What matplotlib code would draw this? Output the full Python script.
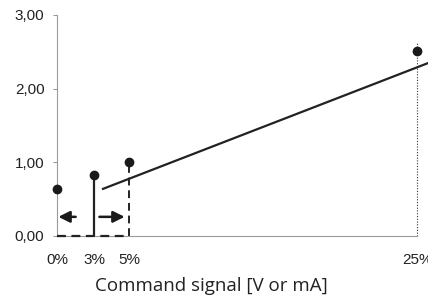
import numpy as np
import matplotlib.pyplot as plt

# measured points (command %, output)
point_x = [0, 2.6, 5, 25]
point_y = [0.64, 0.83, 1.0, 2.51]

# linear characteristic
line_x = [3.2, 25.8]
line_y = [0.64, 2.35]

tick_pos = [0, 2.6, 5, 25]
tick_labels = ['0%', '3%', '5%', '25%']
y_ticks = [0, 1, 2, 3]

GRAY = '#9a9a9a'

fig = plt.figure(figsize=(4.28, 2.97), dpi=100)
ax = fig.add_axes([0.133, 0.2054, 0.867, 0.7441])

ax.set_xlim(0, 25.76)
ax.set_ylim(0, 3)

# guide lines
ax.plot([point_x[1], point_x[1]], [0, point_y[1]], color='#222', lw=1.6)
ax.plot([point_x[2], point_x[2]], [0, point_y[2]], color='#222', lw=1.4, ls=(0, (4, 2.5)))
ax.plot([0, point_x[2]], [0, 0], color='#222', lw=1.6, ls=(0, (4, 2.5)), clip_on=False, zorder=5)
ax.plot([25, 25], [0, 2.62], color='#333', lw=0.8, ls=(0, (1, 1.5)))

# characteristic line
ax.plot(line_x, line_y, color='#222', lw=1.6, clip_on=False)

# points
ax.plot(point_x, point_y, 'o', color='#1a1a1a', ms=6, clip_on=False, zorder=6)

# arrows
arrow = dict(arrowstyle='-|>', color='#1a1a1a', lw=1.8, mutation_scale=17, shrinkA=0, shrinkB=0)
ax.annotate('', xy=(0.1, 0.26), xytext=(1.3, 0.26), arrowprops=arrow)
ax.annotate('', xy=(4.7, 0.26), xytext=(2.95, 0.26), arrowprops=arrow)

for s in ['top', 'right']:
    ax.spines[s].set_visible(False)
ax.spines['left'].set_color(GRAY)
ax.spines['bottom'].set_color(GRAY)
ax.spines['bottom'].set_bounds(0, 25)

tick_font = ['Liberation Sans', 'DejaVu Sans']
ax.set_yticks(y_ticks)
ax.set_yticklabels([f'{v:.2f}'.replace('.', ',') for v in y_ticks], family=tick_font, fontsize=11)
ax.set_xticks(tick_pos)
ax.set_xticklabels(tick_labels, family=tick_font, fontsize=11)
ax.tick_params(axis='y', colors=GRAY, labelcolor='#222', length=3, width=0.8, pad=6)
ax.tick_params(axis='x', colors=GRAY, labelcolor='#222', length=0, pad=12)
ax.set_xlabel('Command signal [V or mA]', family='Open Sans', fontsize=13.5, color='#222')
ax.xaxis.set_label_coords(0.415, -0.185)

fig.savefig('out.png', dpi=100)
